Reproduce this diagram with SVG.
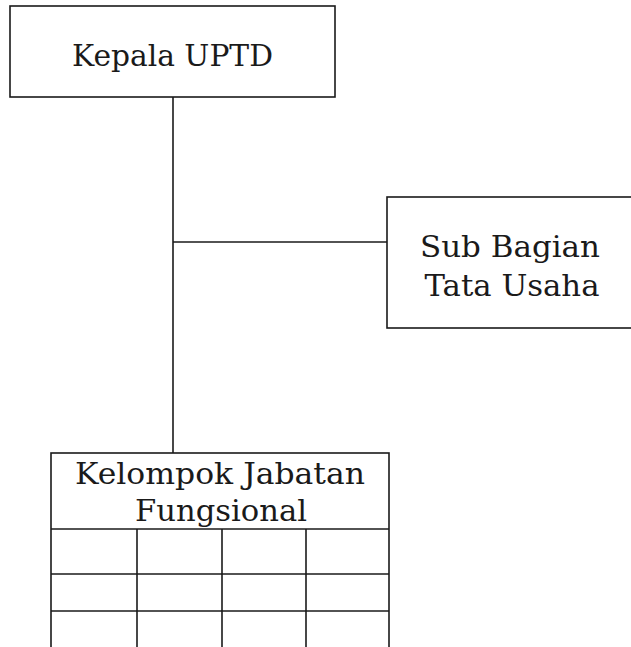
<svg xmlns="http://www.w3.org/2000/svg" width="631" height="647" viewBox="0 0 631 647">
<style>
.box{fill:#fff;stroke:#1a1a1a;stroke-width:1.6}
.ln{stroke:#1a1a1a;stroke-width:1.6;fill:none}
.t{font-family:"DejaVu Serif","Liberation Serif",serif;font-size:30px;fill:#1a1a1a;text-anchor:middle}
</style>
<rect width="631" height="647" fill="#fff"/>
<g id="connectors">
<line class="ln" x1="173" y1="97" x2="173" y2="453"/>
<line class="ln" x1="173" y1="242" x2="387" y2="242"/>
</g>
<g id="kepala">
<rect class="box" x="10" y="6" width="325" height="91"/>
<text class="t" x="172.5" y="66" textLength="201" lengthAdjust="spacingAndGlyphs">Kepala UPTD</text>
</g>
<g id="subbag">
<rect class="box" x="387" y="197" width="260" height="131"/>
<text class="t" x="510" y="257" textLength="180" lengthAdjust="spacingAndGlyphs">Sub Bagian</text>
<text class="t" x="512" y="296" textLength="175" lengthAdjust="spacingAndGlyphs">Tata Usaha</text>
</g>
<g id="jabfung">
<rect class="box" x="51" y="453" width="338" height="210"/>
<text class="t" x="220" y="484" textLength="290" lengthAdjust="spacingAndGlyphs">Kelompok Jabatan</text>
<text class="t" x="221" y="521" textLength="172" lengthAdjust="spacingAndGlyphs">Fungsional</text>
<line class="ln" x1="51" y1="529" x2="389" y2="529"/>
<line class="ln" x1="51" y1="574" x2="389" y2="574"/>
<line class="ln" x1="51" y1="611" x2="389" y2="611"/>
<line class="ln" x1="137" y1="529" x2="137" y2="647"/>
<line class="ln" x1="222" y1="529" x2="222" y2="647"/>
<line class="ln" x1="306" y1="529" x2="306" y2="647"/>
</g>
</svg>
